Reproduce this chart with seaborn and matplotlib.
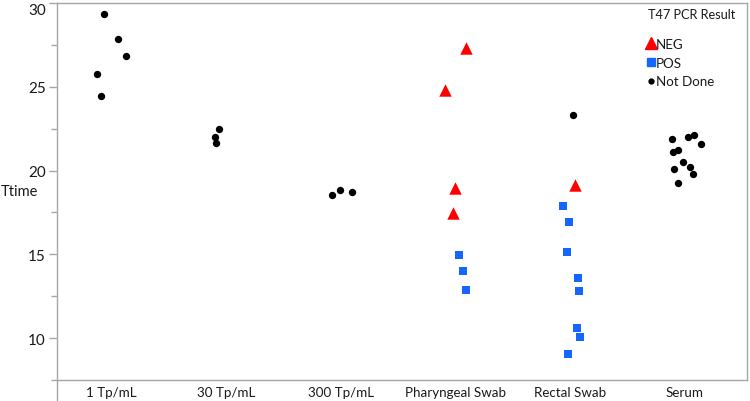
import matplotlib
matplotlib.use("Agg")
import matplotlib.pyplot as plt
from matplotlib.lines import Line2D
import seaborn as sns
import pandas as pd

# ---- data ----
categories = ["1 Tp/mL", "30 Tp/mL", "300 Tp/mL", "Pharyngeal Swab", "Rectal Swab", "Serum"]

# (category, Ttime, result, jitter offset within category)
pt_category = (["1 Tp/mL"] * 5 + ["30 Tp/mL"] * 3 + ["300 Tp/mL"] * 3 +
               ["Pharyngeal Swab"] * 7 + ["Rectal Swab"] * 10 + ["Serum"] * 11)
pt_ttime = [29.37, 27.86, 26.86, 25.75, 24.46,
            22.47, 21.99, 21.63,
            18.52, 18.86, 18.74,
            27.32, 24.83, 18.96, 17.47, 14.98, 14.02, 12.87,
            23.34, 19.14, 17.89, 16.91, 15.16, 13.60, 12.83, 10.62, 10.06, 9.04,
            21.89, 22.03, 22.15, 21.57, 21.11, 21.25, 20.49, 20.23, 20.08, 19.80, 19.24]
pt_result = (["Not Done"] * 11 +
             ["NEG"] * 4 + ["POS"] * 3 +
             ["Not Done"] + ["NEG"] + ["POS"] * 8 +
             ["Not Done"] * 11)
pt_jitter = [-0.063, 0.061, 0.128, -0.124, -0.090,
             -0.055, -0.098, -0.087,
             -0.078, -0.009, 0.102,
             0.093, -0.087, -0.006, -0.020, 0.029, 0.063, 0.096,
             0.026, 0.043, -0.067, -0.009, -0.026, 0.067, 0.081, 0.055, 0.087, -0.015,
             -0.110, 0.023, 0.078, 0.137, -0.102, -0.063, -0.020, 0.043, -0.093, 0.067, -0.061]

result_levels = ["NEG", "POS", "Not Done"]
result_colors = {"NEG": "#ff0000", "POS": "#1466ff", "Not Done": "#000000"}
result_markers = {"NEG": "^", "POS": "s", "Not Done": "o"}
result_sizes = {"NEG": 80, "POS": 38, "Not Done": 28}

df = pd.DataFrame({"cat": pt_category, "Ttime": pt_ttime,
                   "Result": pt_result, "jit": pt_jitter})
df["xpos"] = df["cat"].map({c: i for i, c in enumerate(categories)}) + df["jit"]

sns.set_theme(style="white")
plt.rcParams["font.family"] = ["Lato", "DejaVu Sans"]

fig = plt.figure(figsize=(7.5, 4.02), dpi=100)
ax = fig.add_axes([57 / 750, 1 - 381 / 402, (747 - 57) / 750, (381 - 4) / 402])

for r in result_levels:
    sub = df[df["Result"] == r]
    sns.scatterplot(data=sub, x="xpos", y="Ttime", color=result_colors[r],
                    marker=result_markers[r], s=result_sizes[r], linewidth=0,
                    legend=False, ax=ax, zorder=3)

txt = "#1a1a1a"
ax.set_xlim(-0.47, 5.54)
ax.set_ylim(7.5, 30.0)
ax.set_xticks(range(len(categories)))
ax.set_xticklabels(categories)
ax.set_yticks([10, 15, 20, 25, 30])
ax.set_yticks([7.5, 12.5, 17.5, 22.5, 27.5], minor=True)
ax.set_xlabel("")
ax.set_ylabel("Ttime", rotation=0, ha="left", va="center", fontsize=10.5, color=txt)
ax.yaxis.set_label_coords((1 - 57) / 690, 0.5)

grey = "#a6a6a6"
for sp in ax.spines.values():
    sp.set_color(grey)
    sp.set_linewidth(1.0)
ax.tick_params(axis="y", which="major", length=6, width=1, color=grey, pad=2,
               labelsize=11, labelcolor=txt, left=True)
ax.tick_params(axis="y", which="minor", length=4, width=1, color=grey, left=True)
ax.tick_params(axis="x", length=0, pad=4, labelsize=9.6, labelcolor=txt)
# top label sits just below the frame edge as in the reference
ax.get_yticklabels()[-1].set_va("top")

# left axis line continues down through the label area
fig.add_artist(Line2D([57 / 750, 57 / 750], [0, 1 - 381 / 402], color=grey, lw=1.0))

handles = [
    Line2D([], [], linestyle="none", marker="^", color=result_colors["NEG"], markersize=9),
    Line2D([], [], linestyle="none", marker="s", color=result_colors["POS"], markersize=5.5),
    Line2D([], [], linestyle="none", marker="o", color=result_colors["Not Done"], markersize=3.5),
]
leg = ax.legend(handles, result_levels, title="T47 PCR Result", loc="upper left",
                bbox_to_anchor=((648 - 57) / 690, (381 - 9) / 377), frameon=False,
                fontsize=9.6, title_fontsize=9.2, handlelength=0.5, handletextpad=0.1,
                labelspacing=0.5, borderaxespad=0, borderpad=0, alignment="left")
for t in leg.get_texts():
    t.set_color(txt)
leg.get_title().set_color(txt)
leg._legend_box.sep = 13

fig.savefig("out.png", dpi=100)
